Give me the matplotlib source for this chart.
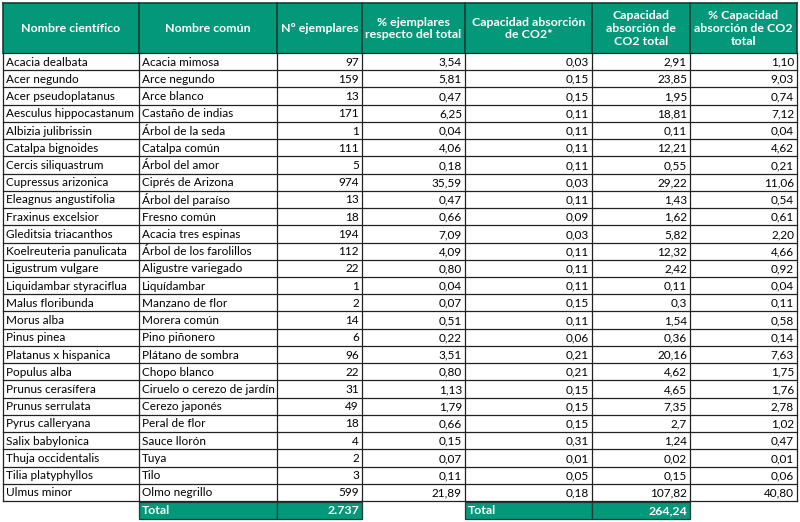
import matplotlib
matplotlib.use("Agg")
import matplotlib.pyplot as plt
from matplotlib.patches import Rectangle

headers = ["Nombre científico", "Nombre común", "Nº ejemplares",
           "% ejemplares\nrespecto del total", "Capacidad absorción\nde CO2*",
           "Capacidad\nabsorción de\nCO2 total", "% Capacidad\nabsorción de CO2\ntotal"]

nombre_cientifico = ["Acacia dealbata", "Acer negundo", "Acer pseudoplatanus", "Aesculus hippocastanum",
    "Albizia julibrissin", "Catalpa bignoides", "Cercis siliquastrum", "Cupressus arizonica",
    "Eleagnus angustifolia", "Fraxinus excelsior", "Gleditsia triacanthos", "Koelreuteria panulicata",
    "Ligustrum vulgare", "Liquidambar styraciflua", "Malus floribunda", "Morus alba", "Pinus pinea",
    "Platanus x hispanica", "Populus alba", "Prunus cerasífera", "Prunus serrulata", "Pyrus calleryana",
    "Salix babylonica", "Thuja occidentalis", "Tilia platyphyllos", "Ulmus minor"]
nombre_comun = ["Acacia mimosa", "Arce negundo", "Arce blanco", "Castaño de indias", "Árbol de la seda",
    "Catalpa común", "Árbol del amor", "Ciprés de Arizona", "Árbol del paraíso", "Fresno común",
    "Acacia tres espinas", "Árbol de los farolillos", "Aligustre variegado", "Liquídambar",
    "Manzano de flor", "Morera común", "Pino piñonero", "Plátano de sombra", "Chopo blanco",
    "Ciruelo o cerezo de jardín", "Cerezo japonés", "Peral de flor", "Sauce llorón", "Tuya", "Tilo",
    "Olmo negrillo"]
ejemplares = ["97", "159", "13", "171", "1", "111", "5", "974", "13", "18", "194", "112", "22", "1",
    "2", "14", "6", "96", "22", "31", "49", "18", "4", "2", "3", "599"]
pct_ejemplares = ["3,54", "5,81", "0,47", "6,25", "0,04", "4,06", "0,18", "35,59", "0,47", "0,66",
    "7,09", "4,09", "0,80", "0,04", "0,07", "0,51", "0,22", "3,51", "0,80", "1,13", "1,79", "0,66",
    "0,15", "0,07", "0,11", "21,89"]
capacidad = ["0,03", "0,15", "0,15", "0,11", "0,11", "0,11", "0,11", "0,03", "0,11", "0,09", "0,03",
    "0,11", "0,11", "0,11", "0,15", "0,11", "0,06", "0,21", "0,21", "0,15", "0,15", "0,15", "0,31",
    "0,01", "0,05", "0,18"]
capacidad_total = ["2,91", "23,85", "1,95", "18,81", "0,11", "12,21", "0,55", "29,22", "1,43", "1,62",
    "5,82", "12,32", "2,42", "0,11", "0,3", "1,54", "0,36", "20,16", "4,62", "4,65", "7,35", "2,7",
    "1,24", "0,02", "0,15", "107,82"]
pct_capacidad = ["1,10", "9,03", "0,74", "7,12", "0,04", "4,62", "0,21", "11,06", "0,54", "0,61",
    "2,20", "4,66", "0,92", "0,04", "0,11", "0,58", "0,14", "7,63", "1,75", "1,76", "2,78", "1,02",
    "0,47", "0,01", "0,06", "40,80"]
total_ejemplares = "2.737"
total_capacidad = "264,24"

columns = [nombre_cientifico, nombre_comun, ejemplares, pct_ejemplares, capacidad, capacidad_total, pct_capacidad]
align = ["left", "left", "right", "right", "right", "right", "right"]

W, H = 800, 522
fig = plt.figure(figsize=(W / 100, H / 100), dpi=100)
ax = fig.add_axes([0, 0, 1, 1])
ax.set_xlim(0, W)
ax.set_ylim(H, 0)
ax.axis("off")

green = "#03987A"
font = ["Lato", "DejaVu Sans"]
fs = 8.5
fs_head = 8.9

xs = [3, 139, 277, 362, 465, 592, 690, 797]
head_top, head_bot = 3, 53
n = len(nombre_cientifico)
row_h = (501 - head_bot) / n
tot_top, tot_bot = 502, 519

# header
ax.add_patch(Rectangle((xs[0], head_top), xs[-1] - xs[0], head_bot - head_top, facecolor=green,
                       edgecolor="none"))
for i, h in enumerate(headers):
    cx = (xs[i] + xs[i + 1]) / 2
    ax.text(cx, (head_top + head_bot) / 2 + 0.5, h, ha="center", va="center", color="white",
            fontsize=fs_head, fontweight="bold", family=font, linespacing=1.2)
for x in xs:
    ax.plot([x, x], [head_top, head_bot], color="#1f3b33", lw=1.2)
ax.plot([xs[0], xs[-1]], [head_top, head_top], color="#1f3b33", lw=1.2)

# body
for r in range(n):
    y0 = head_bot + r * row_h
    yc = y0 + row_h / 2 + 0.5
    for c, col in enumerate(columns):
        if align[c] == "left":
            ax.text(xs[c] + 3, yc, col[r], ha="left", va="center", fontsize=fs, family=font, color="black")
        else:
            ax.text(xs[c + 1] - 3, yc, col[r], ha="right", va="center", fontsize=fs, family=font,
                    color="black")
for r in range(n + 1):
    y = head_bot + r * row_h
    ax.plot([xs[0], xs[-1]], [y, y], color="#222222", lw=0.9)
for x in xs:
    ax.plot([x, x], [head_bot, 501], color="#222222", lw=0.9)

# totals
def total_cell(x0, x1, text, ha):
    ax.add_patch(Rectangle((x0, tot_top), x1 - x0, tot_bot - tot_top, facecolor=green, edgecolor="#1f3b33",
                           lw=0.9))
    tx = x0 + 3 if ha == "left" else x1 - 3
    ax.text(tx, (tot_top + tot_bot) / 2 + 0.5, text, ha=ha, va="center", color="white", fontsize=fs_head,
            fontweight="bold", family=font)

total_cell(xs[1], xs[2], "Total", "left")
total_cell(xs[2], xs[3], total_ejemplares, "right")
total_cell(xs[4], xs[5], "Total", "left")
total_cell(xs[5], xs[6], total_capacidad, "right")

fig.savefig("out.png", dpi=100, facecolor="white")
